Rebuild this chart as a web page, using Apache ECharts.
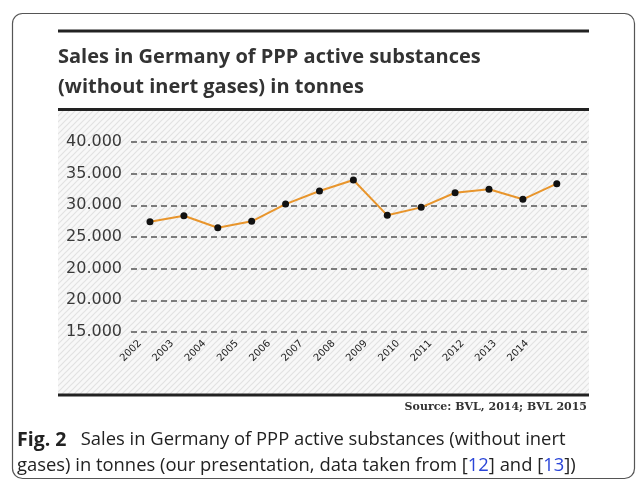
<!DOCTYPE html>
<html>
<head>
<meta charset="utf-8">
<script src="https://cdn.jsdelivr.net/npm/echarts@6/dist/echarts.min.js"></script>
<style>
  html, body { margin: 0; padding: 0; background: #fff; }
  #chart { width: 636px; height: 480px; }
</style>
</head>
<body>
<div id="chart"></div>
<script>
const years = [2002, 2003, 2004, 2005, 2006, 2007, 2008, 2009, 2010, 2011, 2012, 2013, 2014]
const sales = [27400, 28350, 26460, 27470, 30200, 32260, 34000, 28420, 29680, 31990, 32530, 30950, 33420]
// tick labels as printed in the original (bottom to top, 20.000 appears twice)
const yTickLabels = ['15.000', '20.000', '20.000', '25.000', '30.000', '35.000', '40.000']

// diagonal hatch for the panel background
function hatch () {
  const c = document.createElement('canvas')
  c.width = 6
  c.height = 6
  const ctx = c.getContext('2d')
  ctx.fillStyle = '#f8f8f8'
  ctx.fillRect(0, 0, 6, 6)
  ctx.strokeStyle = '#e2e2e2'
  ctx.lineWidth = 1.2
  ctx.beginPath()
  ctx.moveTo(-1, 7); ctx.lineTo(7, -1)
  ctx.moveTo(-1, 1); ctx.lineTo(1, -1)
  ctx.moveTo(5, 7); ctx.lineTo(7, 5)
  ctx.stroke()
  return c
}

const chart = echarts.init(document.getElementById('chart'))
chart.setOption({
  backgroundColor: '#fff',
  animation: false,
  title: {
    text: 'Sales in Germany of PPP active substances\n(without inert gases) in tonnes',
    left: 58,
    top: 42,
    padding: 0,
    textStyle: {
      fontFamily: 'Open Sans',
      fontSize: 20,
      fontWeight: 'bold',
      color: '#333',
      lineHeight: 30
    }
  },
  graphic: [
    // outer frame
    {
      type: 'rect', z: -10,
      shape: { x: 12.5, y: 13.5, width: 622, height: 465, r: 10 },
      style: { fill: '#fff', stroke: '#555', lineWidth: 1.2 }
    },
    {
      type: 'rect', z: -5,
      shape: { x: 58, y: 111, width: 531, height: 283 },
      style: { fill: { image: hatch(), repeat: 'repeat' } }
    },
    { type: 'rect', shape: { x: 58, y: 29.5, width: 531, height: 3 }, style: { fill: '#222' } },
    { type: 'rect', shape: { x: 58, y: 108, width: 531, height: 3 }, style: { fill: '#222' } },
    { type: 'rect', shape: { x: 58, y: 393.5, width: 531, height: 3 }, style: { fill: '#222' } },
    {
      type: 'text', x: 587, y: 407,
      style: {
        text: 'Source: BVL, 2014; BVL 2015',
        align: 'right', verticalAlign: 'middle',
        font: 'bold 11px "DejaVu Serif"', fill: '#333'
      }
    },
    {
      type: 'text', x: 17, y: 427,
      style: {
        text: '{b|Fig. 2}   Sales in Germany of PPP active substances (without inert\ngases) in tonnes (our presentation, data taken from [{l|12}] and [{l|13}])',
        fontFamily: 'Open Sans',
        fontSize: 18.4,
        lineHeight: 26,
        fill: '#222',
        rich: {
          b: { fontFamily: 'Open Sans', fontSize: 19.5, fontWeight: 'bold', lineHeight: 26 },
          l: { fontFamily: 'Open Sans', fontSize: 18.4, fill: '#2a45d8', lineHeight: 26 }
        }
      }
    }
  ],
  grid: {
    left: 131,
    right: 47,
    top: 142,
    bottom: 148
  },
  xAxis: [
    {
      // positions the points
      type: 'value',
      min: 2001.44,
      max: 2014.95,
      show: false
    },
    {
      // year labels (slightly narrower spacing than the points, as in the source)
      type: 'value',
      position: 'bottom',
      min: 2001.72,
      max: 2015.92,
      axisLine: { show: false },
      axisTick: { show: false },
      splitLine: { show: false },
      axisLabel: {
        customValues: years,
        rotate: 45,
        margin: 10,
        fontFamily: 'DejaVu Sans',
        fontSize: 10,
        color: '#222',
        formatter: v => String(v)
      }
    }
  ],
  yAxis: {
    type: 'value',
    min: 10000,
    max: 40000,
    interval: 5000,
    axisLine: { show: false },
    axisTick: { show: false },
    axisLabel: {
      margin: 9,
      fontFamily: 'DejaVu Sans',
      fontSize: 16,
      color: '#3a3a3a',
      formatter: v => yTickLabels[Math.round((v - 10000) / 5000)]
    },
    splitLine: {
      show: true,
      lineStyle: { color: '#555', width: 1.5, type: [6, 4] }
    }
  },
  series: [
    {
      type: 'line',
      xAxisIndex: 0,
      data: years.map((y, i) => [y, sales[i]]),
      symbol: 'circle',
      symbolSize: 7,
      lineStyle: { color: '#e8952c', width: 2 },
      itemStyle: { color: '#111' }
    }
  ]
})
</script>
</body>
</html>
